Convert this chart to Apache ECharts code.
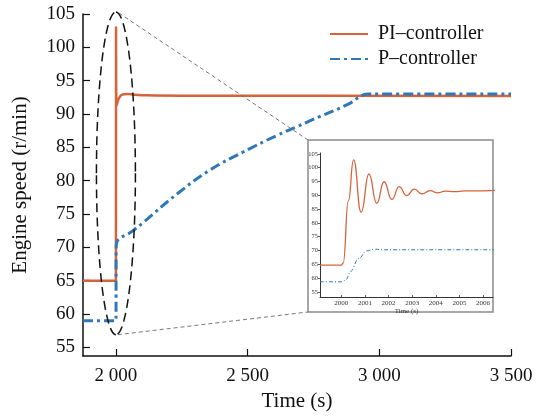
<!DOCTYPE html>
<html>
<head>
<meta charset="utf-8">
<script src="https://cdn.jsdelivr.net/npm/echarts@6/dist/echarts.min.js"></script>
<style>html,body{margin:0;padding:0;background:#fff}#c{width:540px;height:417px}</style>
</head>
<body>
<div id="c"></div>
<script>
// ---- data ----
var piTime  = [1875, 2000, 2000.5, 2002, 2006, 2012, 2020, 2030, 2045, 2070, 2120, 2250, 3500];
var piSpeed = [65,   65,   103,    91.2, 91.8, 92.4, 92.8, 92.95, 93.0, 92.9, 92.8, 92.75, 92.7];

var pTime  = [1875, 2000, 2001, 2065, 2103, 2232, 2357, 2483, 2612, 2688, 2749, 2878, 2935, 2960, 3500];
var pSpeed = [59,   59,   70.3, 72.5, 73.7, 78.0, 81.6, 84.3, 86.8, 88.1, 89.2, 91.4, 92.8, 93.0, 93.0];

var insetPiTime  = [1999.1, 2000.0, 2000.08, 2000.3, 2000.52, 2000.84, 2001.17, 2001.5, 2001.81, 2002.14, 2002.45, 2002.77, 2003.09, 2003.42, 2003.75, 2004.08, 2004.4, 2004.8, 2005.2, 2005.7, 2006.5];
var insetPiSpeed = [64.7,   64.7,   65.5,    88,     102.8,   83.9,    97.7,    87.1,   94.9,    88.5,    93.1,    89.9,    92.2,    90.5,    91.7,    90.9,    91.5,   91.3,   91.6,   91.6,   91.8];

var insetPTime  = [1999.1, 2000.05, 2000.2, 2000.4, 2000.73, 2001.08, 2001.4, 2001.8, 2006.5];
var insetPSpeed = [58.7,   58.7,    59.5,   62.5,   67.1,    69.9,    70.5,   70.3,   70.3];

var xTicks = [2000, 2500, 3000, 3500];
var yTicks = [55, 60, 65, 70, 75, 80, 85, 90, 95, 100, 105];
var insetXTicks = [2000, 2001, 2002, 2003, 2004, 2005, 2006];
var insetYTicks = [55, 60, 65, 70, 75, 80, 85, 90, 95, 100, 105];

var seriesNames = ['PI\u2013controller', 'P\u2013controller'];

// ---- helpers ----
function pairs(a, b) { return a.map(function (v, i) { return [v, b[i]]; }); }
function thousands(v) { return String(v).replace(/\B(?=(\d{3})+(?!\d))/g, ' '); }
function plain(v) { return String(v); }

var serif = 'Liberation Serif';
var PI_COLOR = '#d5633b';
var P_COLOR = '#2f77b7';

var chart = echarts.init(document.getElementById('c'), null, {renderer: 'canvas'});

var option = {
  animation: false,
  backgroundColor: '#fff',
  textStyle: {fontFamily: serif},
  legend: {
    data: seriesNames,
    orient: 'vertical',
    left: 324, top: 19,
    itemWidth: 38, itemHeight: 14, itemGap: 5,
    itemStyle: {opacity: 0},
    textStyle: {fontFamily: serif, fontSize: 20, color: '#111', padding: [0, 0, 0, 5]}
  },
  grid: [
    {left: 83, right: 29, top: 14, bottom: 54},
    {left: 320, right: 47, top: 153, bottom: 120}
  ],
  xAxis: [
    {
      gridIndex: 0, type: 'value', min: 1875, max: 3500,
      name: 'Time (s)', nameLocation: 'middle', nameGap: 35,
      nameTextStyle: {fontFamily: serif, fontSize: 21, color: '#111'},
      axisLine: {lineStyle: {color: '#111', width: 1.5}},
      axisTick: {inside: true, length: 7, customValues: xTicks, lineStyle: {color: '#111', width: 1.2}},
      axisLabel: {customValues: xTicks, formatter: thousands, fontFamily: serif, fontSize: 19, color: '#111', margin: 11},
      splitLine: {show: false}
    },
    {
      gridIndex: 1, type: 'value', min: 1999.1, max: 2006.42,
      name: 'Time (s)', nameLocation: 'middle', nameGap: 8,
      nameTextStyle: {fontFamily: serif, fontSize: 7, color: '#333'},
      axisLine: {lineStyle: {color: '#333', width: 1}},
      axisTick: {inside: true, length: 2, customValues: insetXTicks, lineStyle: {color: '#333', width: 0.8}},
      axisLabel: {customValues: insetXTicks, formatter: plain, fontFamily: serif, fontSize: 7, color: '#333', margin: 3},
      splitLine: {show: false}
    }
  ],
  yAxis: [
    {
      gridIndex: 0, type: 'value', min: 53.7, max: 105,
      name: 'Engine speed (r/min)', nameLocation: 'middle', nameGap: 52, nameRotate: 90,
      nameTextStyle: {fontFamily: serif, fontSize: 21, color: '#111'},
      axisLine: {show: true, lineStyle: {color: '#111', width: 1.5}},
      axisTick: {show: true, inside: true, length: 7, customValues: yTicks, lineStyle: {color: '#111', width: 1.2}},
      axisLabel: {customValues: yTicks, fontFamily: serif, fontSize: 19, color: '#111', margin: 8},
      splitLine: {show: false}
    },
    {
      gridIndex: 1, type: 'value', min: 53.2, max: 105.3,
      axisLine: {show: true, lineStyle: {color: '#333', width: 1}},
      axisTick: {show: true, inside: false, length: 2, customValues: insetYTicks, lineStyle: {color: '#333', width: 0.8}},
      axisLabel: {customValues: insetYTicks, fontFamily: serif, fontSize: 6.5, color: '#333', margin: 2},
      splitLine: {show: false}
    }
  ],
  series: [
    {
      name: seriesNames[0], type: 'line', xAxisIndex: 0, yAxisIndex: 0,
      data: pairs(piTime, piSpeed), showSymbol: false, symbol: 'none',
      smooth: 0.3, lineStyle: {color: PI_COLOR, width: 2.5}, itemStyle: {color: PI_COLOR}, z: 3
    },
    {
      name: seriesNames[1], type: 'line', xAxisIndex: 0, yAxisIndex: 0,
      data: pairs(pTime, pSpeed), showSymbol: false, symbol: 'none',
      smooth: 0.45, lineStyle: {color: P_COLOR, width: 3, type: [10, 4, 3, 4]}, itemStyle: {color: P_COLOR}, z: 4
    },
    {
      name: 'inset PI', type: 'line', xAxisIndex: 1, yAxisIndex: 1,
      data: pairs(insetPiTime, insetPiSpeed), showSymbol: false, symbol: 'none',
      smooth: 0.5, smoothMonotone: 'x', lineStyle: {color: PI_COLOR, width: 1.3}, z: 6
    },
    {
      name: 'inset P', type: 'line', xAxisIndex: 1, yAxisIndex: 1,
      data: pairs(insetPTime, insetPSpeed), showSymbol: false, symbol: 'none',
      smooth: 0.4, smoothMonotone: 'x', lineStyle: {color: P_COLOR, width: 1, type: [4, 2, 1, 2]}, z: 6
    }
  ]
};
chart.setOption(option);

// ---- annotations: dashed ellipse around the step, inset frame and connectors ----
function px(pt) {
  var p = chart.convertToPixel({seriesIndex: 0}, pt);
  if (!p || isNaN(p[0])) {
    var g = chart.getModel().getComponent('grid', 0).coordinateSystem;
    p = g.dataToPoint(pt);
  }
  return p;
}
var topP = px([2000, 105.3]);
var botP = px([2000, 56.9]);
var sideP = px([2074, 80]);
var cx = topP[0], cy = (topP[1] + botP[1]) / 2, ry = (botP[1] - topP[1]) / 2, rx = sideP[0] - topP[0];
var frame = {x: 308, y: 140, w: 185, h: 172};
var K = 0.5523;
var ellStyle = {fill: null, stroke: '#111', lineWidth: 1.5, lineDash: [9, 5]};
function quarter(x1, y1, x2, y2, c1x, c1y, c2x, c2y) {
  return {type: 'bezierCurve', z: 20, shape: {x1: x1, y1: y1, x2: x2, y2: y2, cpx1: c1x, cpy1: c1y, cpx2: c2x, cpy2: c2y}, style: ellStyle};
}
var t = cy - ry, b = cy + ry, l = cx - rx, r = cx + rx;

chart.setOption({
  graphic: [
    {type: 'rect', shape: {x: frame.x, y: frame.y, width: frame.w, height: frame.h},
     style: {fill: null, stroke: '#8a8a8a', lineWidth: 1.5}},
    quarter(cx, t, r, cy, cx + K * rx, t, r, cy - K * ry),
    quarter(r, cy, cx, b, r, cy + K * ry, cx + K * rx, b),
    quarter(cx, b, l, cy, cx - K * rx, b, l, cy + K * ry),
    quarter(l, cy, cx, t, l, cy - K * ry, cx - K * rx, t),
    {type: 'line', z: 20, shape: {x1: cx + 3, y1: t + 1, x2: frame.x, y2: frame.y},
     style: {stroke: '#777', lineWidth: 1, lineDash: [4, 3]}},
    {type: 'line', z: 20, shape: {x1: cx + 2, y1: b, x2: frame.x, y2: frame.y + frame.h},
     style: {stroke: '#777', lineWidth: 1, lineDash: [4, 3]}}
  ]
});
</script>
</body>
</html>
